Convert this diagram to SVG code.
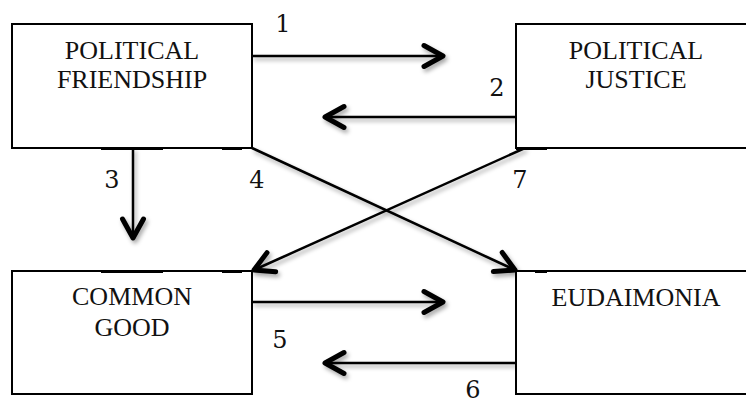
<svg xmlns="http://www.w3.org/2000/svg" width="746" height="403" viewBox="0 0 746 403">
  <style>
    .box { fill: #fff; stroke: #000; stroke-width: 2; }
    .lbl { font-family: 'Liberation Serif', 'Times New Roman', Times, serif; font-size: 26px; fill: #111; text-anchor: middle; }
    .num { font-family: 'DejaVu Serif', 'Liberation Serif', serif; font-size: 24px; fill: #111; text-anchor: middle; }
    .conn { fill: none; stroke: #000; stroke-width: 2.5; marker-end: url(#chev); }
    .tick { fill: #000; }
  </style>
  <defs>
    <marker id="chev" markerUnits="userSpaceOnUse" markerWidth="30" markerHeight="30" viewBox="-24 -15 30 30" refX="0" refY="0" orient="auto" overflow="visible">
      <path d="M-19,-10.5 L0,0 L-19,10.5" fill="none" stroke="#000" stroke-width="5" stroke-linecap="round" stroke-linejoin="round"/>
    </marker>
    <filter id="shadow" x="-10%" y="-30%" width="120%" height="160%">
      <feDropShadow dx="2" dy="3" stdDeviation="2" flood-color="#000" flood-opacity="0.35"/>
    </filter>
  </defs>
  <rect width="746" height="403" fill="#fff"/>

  <g id="connectors" filter="url(#shadow)">
    <line class="conn" x1="252" y1="56" x2="443" y2="56"/>
    <line class="conn" x1="516" y1="117" x2="325" y2="117"/>
    <line class="conn" x1="133" y1="148" x2="133" y2="238"/>
    <line class="conn" x1="252" y1="148" x2="515" y2="270"/>
    <line class="conn" x1="525" y1="148" x2="254" y2="270"/>
    <line class="conn" x1="252" y1="302" x2="443" y2="302"/>
    <line class="conn" x1="516" y1="363" x2="325" y2="363"/>
  </g>

  <g id="political-friendship">
    <rect class="box" x="12" y="24" width="240" height="124"/>
    <rect class="tick" x="101" y="147" width="62" height="3"/>
    <rect class="tick" x="222" y="147" width="20" height="3"/>
    <text class="lbl" x="132" y="59">POLITICAL</text>
    <text class="lbl" x="132" y="88">FRIENDSHIP</text>
  </g>

  <g id="political-justice">
    <rect class="box" x="516" y="24" width="240" height="124"/>
    <rect class="tick" x="516" y="147" width="31" height="3"/>
    <text class="lbl" x="636" y="59">POLITICAL</text>
    <text class="lbl" x="636" y="88">JUSTICE</text>
  </g>

  <g id="common-good">
    <rect class="box" x="12" y="271" width="240" height="123"/>
    <rect class="tick" x="101" y="270" width="62" height="3"/>
    <rect class="tick" x="222" y="270" width="20" height="3"/>
    <text class="lbl" x="132" y="305">COMMON</text>
    <text class="lbl" x="132" y="336">GOOD</text>
  </g>

  <g id="eudaimonia">
    <rect class="box" x="516" y="271" width="240" height="123"/>
    <rect class="tick" x="535" y="270" width="12" height="3"/>
    <text class="lbl" x="636" y="306">EUDAIMONIA</text>
  </g>

  <g id="numbers">
    <text class="num" x="283" y="32">1</text>
    <text class="num" x="497" y="96">2</text>
    <text class="num" x="112" y="188">3</text>
    <text class="num" x="257" y="188">4</text>
    <text class="num" x="520" y="188">7</text>
    <text class="num" x="280" y="348">5</text>
    <text class="num" x="473" y="398">6</text>
  </g>
</svg>
